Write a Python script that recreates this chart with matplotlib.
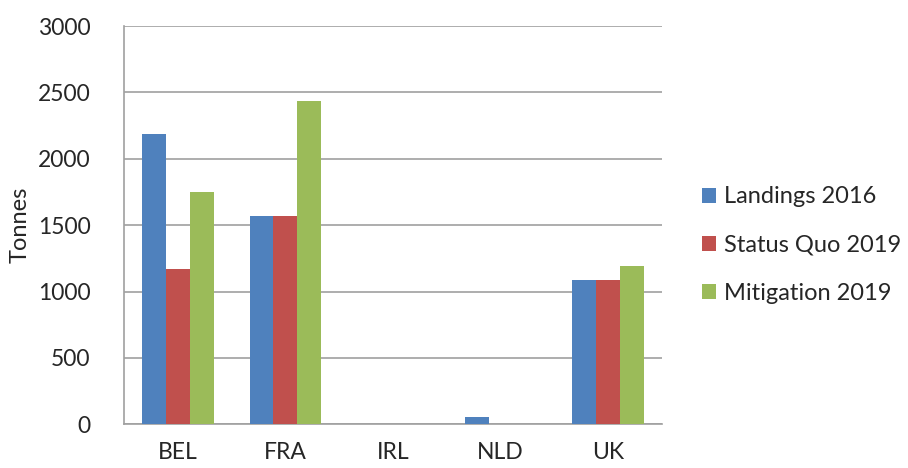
import numpy as np
import matplotlib.pyplot as plt

plt.rcParams['font.family'] = ['Lato', 'DejaVu Sans']

# data
countries = ['BEL', 'FRA', 'IRL', 'NLD', 'UK']
landings_2016 = [2190, 1570, 0, 53, 1087]
status_quo_2019 = [1167, 1570, 0, 0, 1087]
mitigation_2019 = [1752, 2433, 0, 0, 1195]

series = ['Landings 2016', 'Status Quo 2019', 'Mitigation 2019']
colors = ['#4F81BD', '#C0504D', '#9BBB59']
txt = '#262626'

fig = plt.figure(figsize=(9.08, 4.68), dpi=100)
ax = fig.add_axes([0.1366, 0.0934, 0.5924, 0.851])

x = np.arange(len(countries))
w = 0.222
for i, (vals, name) in enumerate(zip([landings_2016, status_quo_2019, mitigation_2019], series)):
    ax.bar(x + (i - 1) * w, vals, width=w, color=colors[i], label=name, zorder=3)

ax.set_xlim(-0.5, len(countries) - 0.5)
ax.set_ylim(0, 3000)
ax.set_yticks(range(0, 3001, 500))
ax.set_xticks(x)
ax.set_xticklabels(countries)
ax.yaxis.grid(True, color='#A0A0A0', linewidth=1.2, zorder=0)
ax.set_axisbelow(True)

for side in ['top', 'right']:
    ax.spines[side].set_visible(False)
for side in ['left', 'bottom']:
    ax.spines[side].set_color('#A0A0A0')
    ax.spines[side].set_linewidth(1.2)

ax.tick_params(axis='both', length=0, labelsize=16.5, colors=txt)
ax.tick_params(axis='y', pad=24)
ax.tick_params(axis='x', pad=13)
ax.set_ylabel('Tonnes', fontsize=17, color=txt)
ax.yaxis.set_label_coords(-0.173, 0.5)

ax.legend(loc='center left', bbox_to_anchor=(1.035, 0.45), frameon=False,
          fontsize=17, handlelength=0.6, handleheight=0.6, handletextpad=0.35,
          labelspacing=1.15, labelcolor=txt)

fig.savefig('out.png', dpi=100)
